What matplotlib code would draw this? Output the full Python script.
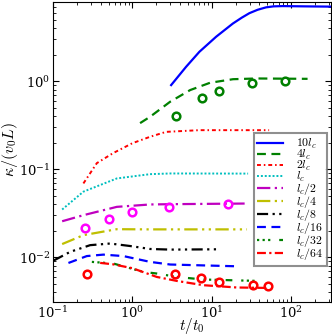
import matplotlib
matplotlib.use("Agg")
import matplotlib.pyplot as plt
import numpy as np

plt.rcParams['mathtext.fontset'] = 'cm'
plt.rcParams['font.family'] = 'serif'
plt.rcParams['font.serif'] = ['DejaVu Serif']

# curves (t/t0, kappa/(v0 L))
t_10 = [3.08, 4.0, 4.75, 7.0, 11.4, 18.5, 24, 29.9, 38, 48.5, 60, 78.7, 150, 330]
k_10 = [0.90, 1.2, 1.45, 2.15, 3.19, 4.5, 5.25, 5.9, 6.45, 6.87, 7.05, 7.1, 7.05, 7.0]

t_4 = [1.25, 1.67, 2.99, 5.35, 9.55, 18.6, 37, 162]
k_4 = [0.333, 0.393, 0.582, 0.79, 0.957, 1.05, 1.07, 1.06]

t_2 = [0.241, 0.356, 0.571, 1.0, 1.67, 2.66, 7.0, 53]
k_2 = [0.0688, 0.117, 0.152, 0.197, 0.233, 0.265, 0.277, 0.277]

t_1 = [0.13, 0.241, 0.636, 1.67, 3.0, 28.8]
k_1 = [0.0348, 0.0555, 0.0784, 0.0877, 0.0893, 0.089]

t_h2 = [0.13, 0.241, 0.636, 1.67, 3.0, 28.8]
k_h2 = [0.0256, 0.030, 0.0373, 0.0397, 0.040, 0.0407]

t_h4 = [0.13, 0.241, 0.636, 1.67, 3.0, 27.9]
k_h4 = [0.0141, 0.0178, 0.0208, 0.0207, 0.0207, 0.0207]

t_h8 = [0.1, 0.164, 0.293, 0.524, 0.935, 1.67, 3.0, 12.4]
k_h8 = [0.0091, 0.0115, 0.0137, 0.0143, 0.0134, 0.0124, 0.0122, 0.0123]

t_h16 = [0.156, 0.266, 0.43, 0.77, 1.67, 3.0, 19.2]
k_h16 = [0.0086, 0.0103, 0.0107, 0.0103, 0.00885, 0.00826, 0.0079]

t_h32 = [0.308, 0.575, 1.38, 2.03, 3.63, 7.85, 38.5]
k_h32 = [0.00885, 0.00848, 0.0068, 0.00653, 0.00597, 0.00558, 0.00538]

t_h64 = [0.392, 0.571, 1.0, 2.03, 3.63, 7.85, 20.8, 49.5]
k_h64 = [0.00862, 0.0083, 0.0075, 0.00597, 0.00538, 0.00481, 0.00453, 0.00448]

# circle markers
pt_4 = [3.56, 7.64, 12.4, 32.6, 85]
pk_4 = [0.40, 0.64, 0.78, 0.96, 1.0]
pt_h2 = [0.253, 0.508, 0.99, 2.86, 16.3]
pk_h2 = [0.0217, 0.0272, 0.0324, 0.0367, 0.0397]
pt_h64 = [0.271, 3.45, 7.34, 12.4, 33, 51]
pk_h64 = [0.0064, 0.00653, 0.00574, 0.00525, 0.00481, 0.00474]

labels = [r'$10l_c$', r'$4l_c$', r'$2l_c$', r'$l_c$', r'$l_c/2$', r'$l_c/4$',
          r'$l_c/8$', r'$l_c/16$', r'$l_c/32$', r'$l_c/64$']

fig = plt.figure(figsize=(3.32, 3.35), dpi=100)
ax = fig.add_axes([0.16, 0.0985, 0.837, 0.8955])

ax.plot(t_10, k_10, color='b', lw=1.6, ls='-', label=labels[0])
ax.plot(t_4, k_4, color=(0, 0.5, 0), lw=1.6, ls=(0, (4, 2.5)), label=labels[1])
ax.plot(t_2, k_2, color='r', lw=1.4, ls=(0, (2, 1.5, 0.8, 1.5)), label=labels[2])
ax.plot(t_1, k_1, color=(0, 0.75, 0.75), lw=1.4, ls=(0, (1, 1)), label=labels[3])
ax.plot(t_h2, k_h2, color=(0.75, 0, 0.75), lw=1.6, ls=(0, (6, 2, 1, 2)), label=labels[4])
ax.plot(t_h4, k_h4, color=(0.75, 0.75, 0), lw=1.6, ls=(0, (6, 2, 1, 2, 1, 2)), label=labels[5])
ax.plot(t_h8, k_h8, color='k', lw=1.6, ls=(0, (5, 2, 1, 2, 1, 2, 1, 2)), label=labels[6])
ax.plot(t_h16, k_h16, color='b', lw=1.6, ls=(0, (4, 2.5)), label=labels[7])
ax.plot(t_h32, k_h32, color=(0, 0.5, 0), lw=1.6, ls=(0, (1, 1.5, 1, 1.5, 1, 4, 3, 4)), label=labels[8])
ax.plot(t_h64, k_h64, color='r', lw=1.6, ls=(0, (4, 1.5, 1, 1.5)), label=labels[9])

ax.plot(pt_4, pk_4, 'o', ms=5.5, mfc='none', mec=(0, 0.5, 0), mew=1.8)
ax.plot(pt_h2, pk_h2, 'o', ms=5.5, mfc='none', mec=(1, 0, 1), mew=1.8)
ax.plot(pt_h64, pk_h64, 'o', ms=5.5, mfc='none', mec='r', mew=1.8)

ax.set_xscale('log')
ax.set_yscale('log')
ax.set_xlim(0.1, 320)
ax.set_ylim(0.0031, 7.9)
ax.tick_params(which='both', direction='in', top=True, right=True, labelsize=9.5)
ax.tick_params(which='major', length=4, pad=2)
ax.tick_params(which='minor', length=2)
ax.set_xlabel(r'$t/t_0$', fontsize=11)
ax.set_ylabel(r'$\kappa/(v_0L)$', fontsize=11.5)
ax.xaxis.set_label_coords(0.5, -0.045)
ax.yaxis.set_label_coords(-0.12, 0.51)

leg = ax.legend(loc='upper right', bbox_to_anchor=(0.986, 0.563), fontsize=8.5,
                fancybox=False, handlelength=2.2, labelspacing=-0.25,
                borderpad=0.3, handletextpad=1.1, borderaxespad=0)
leg.get_frame().set_edgecolor('0.45')
leg.get_frame().set_linewidth(1.5)

fig.savefig('out.png', dpi=100)
